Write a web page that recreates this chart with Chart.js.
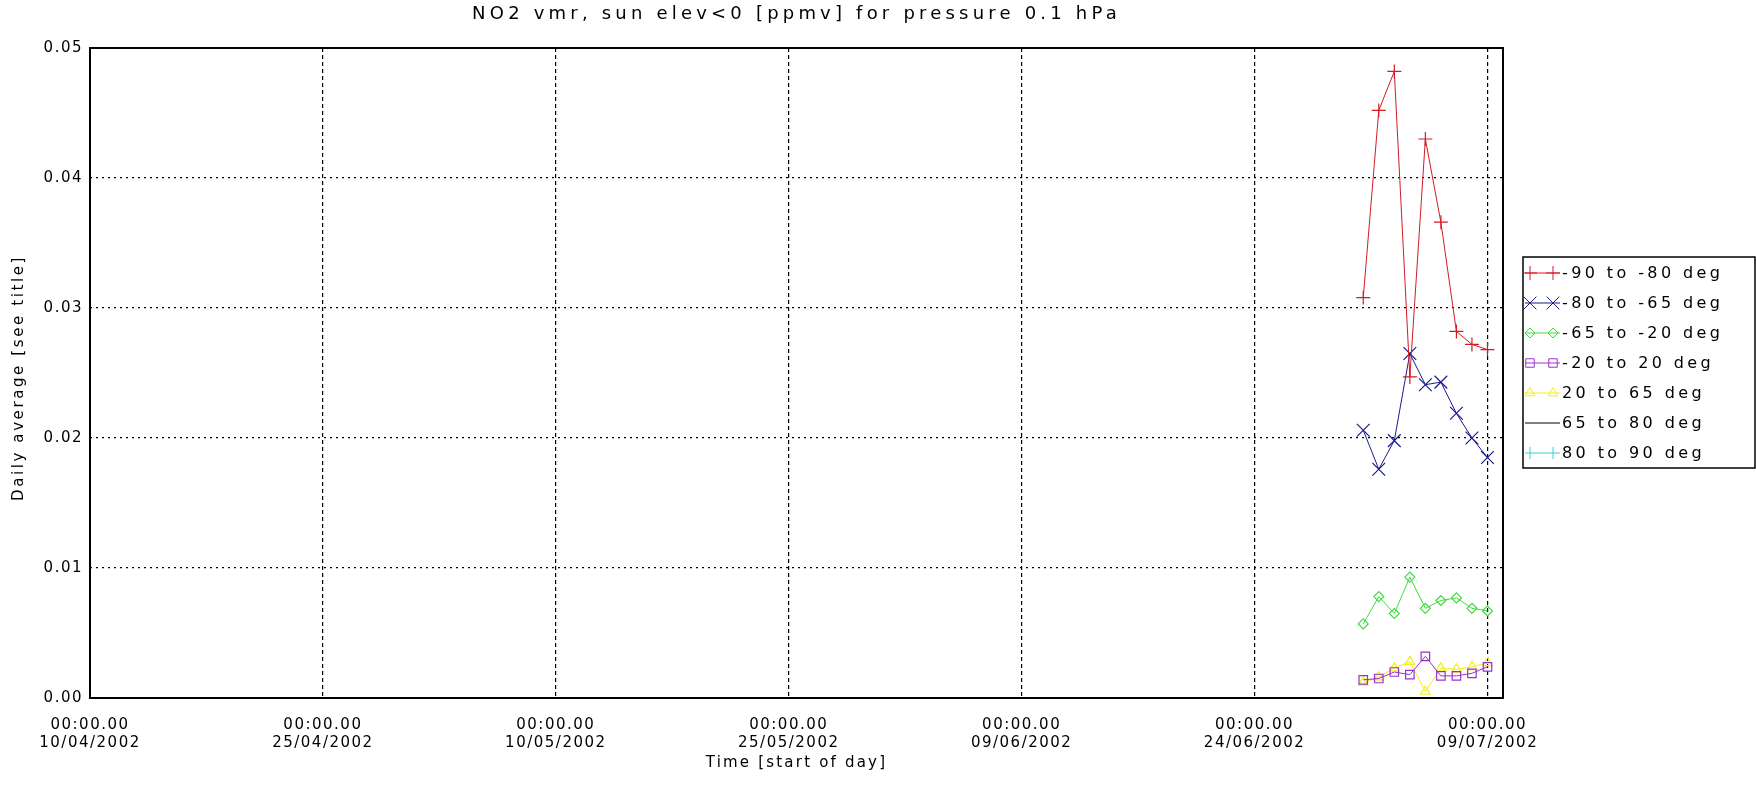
<!DOCTYPE html>
<html>
<head>
<meta charset="utf-8">
<script src="https://cdn.jsdelivr.net/npm/chart.js@4.4.1/dist/chart.umd.min.js"></script>
<style>
  html, body { margin: 0; padding: 0; background: #fff; }
  #wrap { width: 1756px; height: 787px; }
</style>
</head>
<body>
<div id="wrap"><canvas id="chart" width="1756" height="787"></canvas></div>
<script>
// Data (daily averages, ppmv)
const dates = ["01/07/2002", "02/07/2002", "03/07/2002", "04/07/2002", "05/07/2002",
               "06/07/2002", "07/07/2002", "08/07/2002", "09/07/2002"];
const seriesNames = ["-90 to -80 deg", "-80 to -65 deg", "-65 to -20 deg", "-20 to 20 deg",
                     "20 to 65 deg", "65 to 80 deg", "80 to 90 deg"];
const lat90to80 = [0.0308, 0.0452, 0.0482, 0.0247, 0.0430, 0.0366, 0.0282, 0.0272, 0.0268];
const lat80to65 = [0.0206, 0.0176, 0.0198, 0.0265, 0.0241, 0.0243, 0.0219, 0.0200, 0.0185];
const lat65to20 = [0.0057, 0.0078, 0.0065, 0.0093, 0.0069, 0.0075, 0.0077, 0.0069, 0.0067];
const lat20to20 = [0.0014, 0.0015, 0.0020, 0.0018, 0.0032, 0.0017, 0.0017, 0.0019, 0.0024];
const latN20to65 = [0.0012, 0.0016, 0.0023, 0.0028, 0.0005, 0.0023, 0.0022, 0.0024, 0.0027];
const latN65to80 = [];
const latN80to90 = [];

const xTickDates = ["10/04/2002", "25/04/2002", "10/05/2002", "25/05/2002",
                    "09/06/2002", "24/06/2002", "09/07/2002"];
const yTicks = [0, 0.01, 0.02, 0.03, 0.04, 0.05];
const axisStart = "10/04/2002";
const axisEnd = "10/07/2002";

// Helpers
function dayNum(s) {
  const [d, m, y] = s.split("/").map(Number);
  return Date.UTC(y, m - 1, d) / 86400000;
}
const start = dayNum(axisStart);
function fmtDay(v) {
  const dt = new Date((start + v) * 86400000);
  const p = n => String(n).padStart(2, "0");
  return `${p(dt.getUTCDate())}/${p(dt.getUTCMonth() + 1)}/${dt.getUTCFullYear()}`;
}
const toPoints = vals => vals.map((v, i) => ({ x: dayNum(dates[i]) - start, y: v }));

const styles = [
  { color: "#d21c24", point: "cross", r: 7 },
  { color: "#1c1c8c", point: "crossRot", r: 9 },
  { color: "#3fdc3f", point: "rectRot", r: 5 },
  { color: "#9a32c8", point: "rect", r: 6 },
  { color: "#f2ef1c", point: "triangle", r: 5.5 },
  { color: "#000000", point: false, r: 0 },
  { color: "#3fcfd6", point: "line", r: 6 }
];
const seriesData = [lat90to80, lat80to65, lat65to20, lat20to20, latN20to65, latN65to80, latN80to90];

const FONT = "'DejaVu Sans', sans-serif";
const SPACING = "1.5px";

// Frame, title, axis titles and legend
const decorations = {
  id: "decorations",
  beforeLayout(chart) { chart.ctx.letterSpacing = SPACING; },
  beforeDraw(chart) {
    const ctx = chart.ctx;
    ctx.save();
    ctx.fillStyle = "#fff";
    ctx.fillRect(0, 0, chart.width, chart.height);
    ctx.restore();
    ctx.letterSpacing = SPACING;
  },
  afterDraw(chart) {
    const ctx = chart.ctx;
    const a = chart.chartArea;
    ctx.save();
    ctx.strokeStyle = "#000";
    ctx.lineWidth = 2;
    ctx.setLineDash([]);
    ctx.strokeRect(a.left, a.top, a.right - a.left, a.bottom - a.top);

    ctx.fillStyle = "#000";
    ctx.textAlign = "center";
    ctx.textBaseline = "middle";
    ctx.font = `18px ${FONT}`;
    ctx.letterSpacing = "4.2px";
    ctx.fillText("NO2 vmr, sun elev<0 [ppmv] for pressure 0.1 hPa", (a.left + a.right) / 2, 14);

    ctx.font = `15px ${FONT}`;
    ctx.letterSpacing = "2.2px";
    ctx.fillText("Time [start of day]", (a.left + a.right) / 2, 763);

    ctx.save();
    ctx.translate(19, 378);
    ctx.rotate(-Math.PI / 2);
    ctx.letterSpacing = "2.6px";
    ctx.fillText("Daily average [see title]", 0, 0);
    ctx.restore();

    // legend
    const lx = 1523, ly = 257, lw = 232, lh = 211;
    ctx.lineWidth = 1.5;
    ctx.strokeRect(lx, ly, lw, lh);
    ctx.textAlign = "left";
    ctx.font = `16px ${FONT}`;
    ctx.letterSpacing = "3.4px";
    chart.data.datasets.forEach((ds, i) => {
      const st = styles[i];
      const y = 273 + i * 30;
      ctx.strokeStyle = st.color;
      ctx.lineWidth = 1;
      ctx.beginPath();
      ctx.moveTo(lx + 2, y);
      ctx.lineTo(lx + 37, y);
      ctx.stroke();
      if (st.point) {
        drawMarker(ctx, st.point, lx + 7, y, st.r);
        drawMarker(ctx, st.point, lx + 30, y, st.r);
      }
      ctx.fillStyle = "#000";
      ctx.fillText(ds.label, lx + 39, y + 1);
    });
    ctx.restore();
  }
};

function drawMarker(ctx, style, x, y, r) {
  ctx.beginPath();
  if (style === "cross") {
    ctx.moveTo(x - r, y); ctx.lineTo(x + r, y);
    ctx.moveTo(x, y - r); ctx.lineTo(x, y + r);
  } else if (style === "crossRot") {
    const d = r * Math.SQRT1_2;
    ctx.moveTo(x - d, y - d); ctx.lineTo(x + d, y + d);
    ctx.moveTo(x - d, y + d); ctx.lineTo(x + d, y - d);
  } else if (style === "rectRot") {
    ctx.moveTo(x - r, y); ctx.lineTo(x, y - r); ctx.lineTo(x + r, y); ctx.lineTo(x, y + r); ctx.closePath();
  } else if (style === "rect") {
    const s = r * Math.SQRT1_2;
    ctx.rect(x - s, y - s, 2 * s, 2 * s);
  } else if (style === "triangle") {
    ctx.moveTo(x, y - r); ctx.lineTo(x + r * 0.87, y + r * 0.5); ctx.lineTo(x - r * 0.87, y + r * 0.5); ctx.closePath();
  } else if (style === "line") {
    ctx.moveTo(x, y - r); ctx.lineTo(x, y + r);
  }
  ctx.stroke();
}

const datasets = seriesData.map((vals, i) => ({
  label: seriesNames[i],
  data: toPoints(vals),
  borderColor: styles[i].color,
  borderWidth: 1,
  pointStyle: styles[i].point,
  pointRadius: styles[i].r,
  pointBorderColor: styles[i].color,
  pointBackgroundColor: "rgba(0,0,0,0)",
  pointBorderWidth: 1.2,
  tension: 0,
  fill: false
}));

const chart = new Chart(document.getElementById("chart").getContext("2d"), {
  type: "line",
  data: { datasets },
  plugins: [decorations],
  options: {
    responsive: false,
    animation: false,
    layout: { padding: { top: 48, right: 253, left: 0, bottom: 0 } },
    plugins: {
      legend: { display: false },
      title: { display: false },
      tooltip: { enabled: false }
    },
    scales: {
      x: {
        type: "linear",
        min: 0,
        max: dayNum(axisEnd) - start,
        afterFit: s => { s.height = 89; },
        afterBuildTicks: s => { s.ticks = xTickDates.map(d => ({ value: dayNum(d) - start })); },
        grid: { color: "#000", lineWidth: 1.2, drawTicks: false },
        border: { display: false, dash: [4, 3] },
        ticks: {
          color: "#000",
          font: { family: FONT, size: 15 },
          padding: 18,
          maxRotation: 0,
          autoSkip: false,
          callback: v => ["00:00.00", fmtDay(v)]
        }
      },
      y: {
        min: 0,
        max: 0.05,
        afterFit: s => { s.width = 90; },
        afterBuildTicks: s => { s.ticks = yTicks.map(v => ({ value: v })); },
        grid: { color: "#000", lineWidth: 1.2, drawTicks: false },
        border: { display: false, dash: [2, 4] },
        ticks: {
          color: "#000",
          font: { family: FONT, size: 15 },
          padding: 7,
          callback: v => v.toFixed(2)
        }
      }
    }
  }
});
</script>
</body>
</html>
